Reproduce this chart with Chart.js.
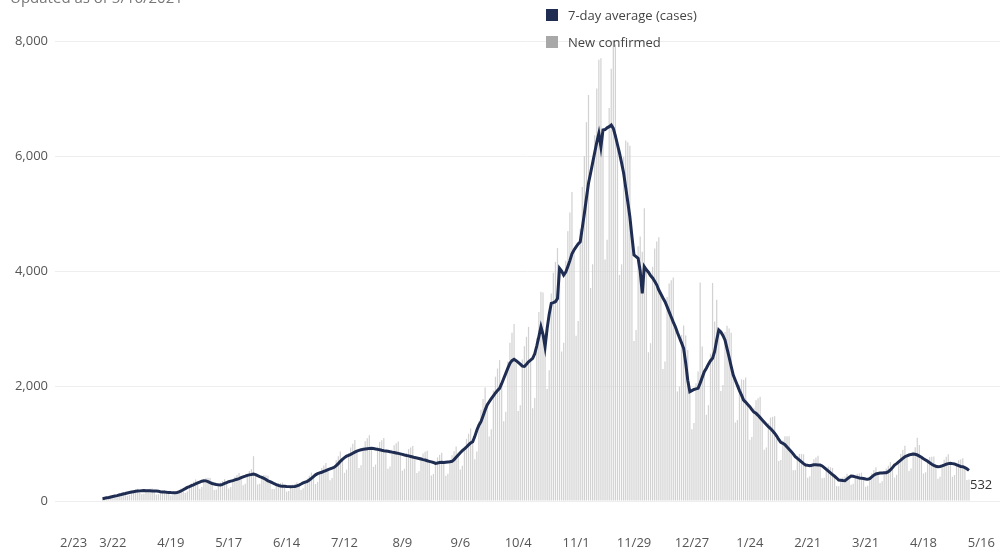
<!DOCTYPE html>
<html>
<head>
<meta charset="utf-8">
<script src="https://cdn.jsdelivr.net/npm/chart.js@4.4.1/dist/chart.umd.min.js"></script>
<style>
    html, body { margin: 0; padding: 0; background: #fff; }
    #wrap { position: relative; width: 1002px; height: 551px; overflow: hidden; font-family: "Open Sans", sans-serif; }
    #updated { position: absolute; left: 10px; top: -13px; font-size: 15px; color: #777; }
    .legend { position: absolute; left: 546px; font-size: 13px; color: #444; line-height: 14px; }
    .legend span { display: inline-block; width: 12px; height: 12px; vertical-align: -1px; margin-right: 10px; }
</style>
</head>
<body>
<div id="wrap">
    <div id="updated">Updated as of 5/16/2021</div>
    <canvas id="casesChart" width="1002" height="551"></canvas>
    <div class="legend" style="top:8px"><span style="background:#1f2d52"></span>7-day average (cases)</div>
    <div class="legend" style="top:35px"><span style="background:#a8a8a8"></span>New confirmed</div>
</div>
<script>
// axis runs 2/23/2020 .. 5/25/2021, one category per day
const startDate = Date.UTC(2020, 1, 23);
const dayCount = 458;
const firstDataDay = 23; // 3/17/2020
const tickEvery = 28;

// 7-day average, one row per week starting on Tuesday 3/17/2020
const avgCases = [
    40, 48, 55, 62, 70, 78, 86,
    94, 104, 112, 122, 130, 140, 148,
    155, 162, 168, 172, 176, 180, 181,
    180, 178, 177, 175, 174, 172, 168,
    162, 158, 155, 150, 148, 146, 145,
    145, 148, 158, 175, 195, 215, 237,
    250, 268, 282, 300, 315, 330, 345,
    353, 350, 338, 320, 305, 295, 288,
    282, 278, 290, 305, 320, 335, 345,
    355, 368, 377, 390, 405, 420, 432,
    445, 455, 462, 470, 458, 440, 425,
    412, 395, 372, 350, 336, 318, 300,
    285, 272, 262, 258, 255, 252, 250,
    249, 250, 252, 262, 278, 295, 315,
    328, 340, 365, 395, 425, 455, 475,
    488, 500, 515, 530, 545, 558, 570,
    586, 615, 650, 690, 725, 755, 780,
    795, 810, 830, 850, 868, 880, 890,
    898, 905, 910, 915, 916, 912, 905,
    898, 890, 882, 875, 870, 865, 858,
    850, 843, 836, 828, 820, 810, 800,
    792, 785, 775, 765, 755, 748, 740,
    730, 720, 713, 700, 690, 680, 670,
    655, 660, 668, 672, 668, 675, 680,
    684, 690, 720, 760, 800, 840, 875,
    905, 940, 975, 1010, 1031, 1120, 1230,
    1320, 1379, 1480, 1580, 1670, 1727, 1780,
    1830, 1880, 1920, 1960, 2040, 2130, 2220,
    2310, 2394, 2440, 2464, 2440, 2410, 2380,
    2345, 2340, 2380, 2422, 2450, 2480, 2560,
    2700, 2860, 3031, 2900, 2683, 3000, 3250,
    3438, 3450, 3466, 3520, 4047, 4000, 3930,
    3980, 4080, 4180, 4300, 4365, 4420, 4470,
    4509, 4750, 5000, 5270, 5525, 5700, 5880,
    6060, 6240, 6394, 6161, 6452, 6460, 6490,
    6510, 6538, 6480, 6350, 6200, 6050, 5880,
    5699, 5450, 5200, 4944, 4600, 4278, 4250,
    4220, 4000, 3612, 4074, 4020, 3980, 3920,
    3880, 3820, 3760, 3669, 3600, 3530, 3466,
    3380, 3290, 3200, 3110, 3031, 2930, 2840,
    2750, 2655, 2400, 2100, 1901, 1920, 1940,
    1950, 1960, 2050, 2150, 2249, 2310, 2380,
    2440, 2481, 2600, 2800, 2974, 2940, 2880,
    2800, 2650, 2500, 2340, 2191, 2100, 2010,
    1920, 1840, 1756, 1720, 1680, 1640, 1590,
    1545, 1525, 1490, 1450, 1410, 1370, 1330,
    1292, 1260, 1220, 1180, 1130, 1070, 1020,
    1003, 980, 940, 900, 860, 820, 772,
    740, 712, 680, 650, 626, 620, 615,
    622, 630, 632, 628, 626, 610, 580,
    550, 520, 490, 460, 430, 400, 365,
    360, 355, 353, 380, 410, 435, 430,
    420, 410, 400, 395, 390, 382, 377,
    390, 420, 450, 470, 478, 485, 488,
    490, 492, 510, 540, 580, 626, 650,
    680, 710, 740, 770, 785, 800, 810,
    817, 812, 800, 780, 760, 735, 713,
    690, 665, 640, 620, 605, 596, 600,
    610, 625, 640, 650, 655, 650, 645,
    630, 615, 600, 596, 580, 560, 532
];

// daily new confirmed cases, same weeks
const newCases = [
    42, 55, 66, 78, 70, 50, 60,
    100, 120, 135, 152, 130, 90, 104,
    165, 186, 202, 215, 176, 117, 127,
    190, 205, 212, 219, 174, 112, 118,
    170, 182, 186, 188, 148, 95, 102,
    152, 170, 190, 219, 195, 140, 166,
    262, 308, 338, 375, 315, 215, 242,
    370, 402, 405, 400, 305, 192, 202,
    296, 320, 348, 381, 320, 218, 242,
    373, 423, 452, 488, 405, 273, 302,
    467, 523, 554, 780, 458, 286, 298,
    433, 454, 446, 438, 336, 207, 210,
    300, 313, 314, 322, 255, 164, 175,
    261, 288, 302, 328, 278, 192, 220,
    344, 391, 438, 494, 425, 296, 333,
    512, 575, 618, 663, 545, 363, 399,
    615, 707, 780, 862, 725, 491, 546,
    835, 932, 996, 1063, 868, 572, 623,
    943, 1041, 1092, 1144, 916, 593, 634,
    943, 1024, 1058, 1094, 870, 562, 601,
    893, 969, 1003, 1035, 820, 527, 560,
    832, 903, 930, 956, 755, 486, 518,
    767, 828, 856, 875, 690, 442, 469,
    688, 759, 802, 840, 668, 439, 476,
    718, 794, 864, 950, 800, 546, 613,
    950, 1081, 1170, 1263, 1031, 728, 861,
    1386, 1587, 1776, 1975, 1670, 1122, 1246,
    1922, 2162, 2304, 2450, 2040, 1385, 1554,
    2426, 2753, 2928, 3080, 2440, 1567, 1666,
    2462, 2691, 2856, 3028, 2450, 1612, 1792,
    2835, 3289, 3637, 3625, 2683, 1950, 2275,
    3610, 3968, 4159, 4400, 4047, 2600, 2751,
    4179, 4692, 5016, 5375, 4365, 2873, 3129,
    4734, 5463, 6000, 6588, 7060, 3705, 4116,
    6363, 7176, 7673, 7701, 6452, 4199, 4543,
    6836, 7518, 8150, 7938, 6200, 3932, 4116,
    5984, 6268, 6240, 6180, 4600, 2781, 2975,
    4431, 4600, 4334, 5093, 4020, 2587, 2744,
    4074, 4393, 4512, 4586, 3600, 2295, 2426,
    3549, 3784, 3840, 3888, 3031, 1905, 1988,
    2888, 3053, 2880, 2625, 1901, 1248, 1358,
    2048, 2254, 3800, 2688, 2249, 1502, 1666,
    2562, 3790, 3120, 3500, 2974, 1911, 2016,
    2940, 3048, 3000, 2925, 2191, 1365, 1407,
    2016, 2116, 2107, 2150, 1680, 1066, 1113,
    1622, 1754, 1788, 1813, 1410, 890, 931,
    1357, 1449, 1464, 1475, 1130, 696, 714,
    1053, 1127, 1128, 1125, 860, 533, 540,
    777, 819, 816, 813, 626, 403, 431,
    653, 725, 758, 785, 626, 397, 406,
    578, 598, 588, 575, 430, 260, 256,
    378, 408, 424, 475, 410, 283, 301,
    441, 472, 480, 494, 390, 248, 264,
    410, 483, 540, 588, 478, 315, 342,
    515, 566, 612, 675, 580, 407, 455,
    714, 817, 888, 963, 785, 520, 567,
    858, 934, 1100, 975, 760, 478, 499,
    725, 765, 768, 775, 605, 387, 420,
    641, 719, 768, 813, 655, 423, 452,
    662, 707, 720, 745, 580, 364, 372
];

const yMax = 8000;
const yStep = 2000;

document.addEventListener('DOMContentLoaded', function() {
    const labels = [];
    for (let i = 0; i < dayCount; i++) {
        const d = new Date(startDate + i * 86400000);
        labels.push((d.getUTCMonth() + 1) + '/' + d.getUTCDate());
    }
    const lead = Array(firstDataDay).fill(null);

    const lastValueLabel = {
        id: 'lastValueLabel',
        afterDatasetsDraw(chart) {
            const meta = chart.getDatasetMeta(0);
            const pt = meta.data[firstDataDay + avgCases.length - 1];
            const ctx = chart.ctx;
            ctx.save();
            ctx.font = '13px "Open Sans"';
            ctx.fillStyle = '#333';
            ctx.textAlign = 'left';
            ctx.textBaseline = 'middle';
            ctx.fillText(avgCases[avgCases.length - 1], pt.x + 1, pt.y + 15);
            ctx.restore();
        }
    };

    new Chart(document.getElementById('casesChart'), {
        type: 'bar',
        data: {
            labels: labels,
            datasets: [
                {
                    type: 'line',
                    label: '7-day average (cases)',
                    data: lead.concat(avgCases),
                    borderColor: '#1f2d52',
                    borderWidth: 3,
                    pointRadius: 0,
                    tension: 0,
                    order: 0
                },
                {
                    label: 'New confirmed',
                    data: lead.concat(newCases),
                    backgroundColor: '#d2d2d2',
                    categoryPercentage: 1,
                    barPercentage: 0.6,
                    order: 1
                }
            ]
        },
        options: {
            responsive: false,
            animation: false,
            layout: { padding: { top: 41, right: 2, left: 0, bottom: 0 } },
            scales: {
                x: {
                    offset: false,
                    afterFit: scale => {
                        scale.height = 50;
                        scale.paddingLeft = 0;
                        scale.paddingRight = 0;
                    },
                    grid: { display: false, drawTicks: false },
                    border: { display: false },
                    ticks: {
                        autoSkip: false,
                        maxRotation: 0,
                        padding: 34,
                        color: '#555',
                        font: { family: 'Open Sans', size: 13 },
                        callback: function(value, index) {
                            if (index % tickEvery !== 0) return null;
                            const text = this.getLabelForValue(value);
                            return index === 0 ? '\u2007\u2007\u2007\u2007\u2007' + text : text;
                        }
                    }
                },
                y: {
                    min: 0,
                    max: yMax,
                    afterFit: scale => { scale.width = 55; },
                    grid: { color: '#eeeeee', drawTicks: false },
                    border: { display: false },
                    ticks: {
                        stepSize: yStep,
                        padding: 7,
                        color: '#555',
                        font: { family: 'Open Sans', size: 13 },
                        callback: value => value.toLocaleString('en-US')
                    }
                }
            },
            plugins: {
                legend: { display: false },
                tooltip: { enabled: false }
            }
        },
        plugins: [lastValueLabel]
    });
});
</script>
</body>
</html>
